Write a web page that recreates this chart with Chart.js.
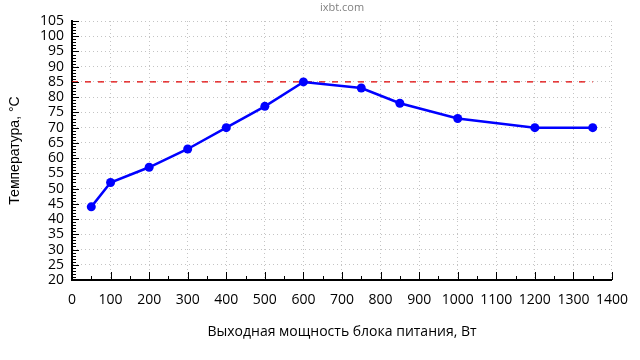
<!DOCTYPE html>
<html>
<head>
<meta charset="utf-8">
<script src="https://cdn.jsdelivr.net/npm/chart.js@4"></script>
<style>
html,body{margin:0;padding:0;background:#fff;}
#wrap{width:640px;height:360px;position:relative;}
</style>
</head>
<body>
<div id="wrap"><canvas id="c" width="640" height="360"></canvas></div>
<script>
const powerW = [50, 100, 200, 300, 400, 500, 600, 750, 850, 1000, 1200, 1350];
const tempC = [44, 52, 57, 63, 70, 77, 85, 83, 78, 73, 70, 70];
const limitX = [0, 1350];
const limitY = [85, 85];
const sourceLabel = 'ixbt.com';
const xTitle = 'Выходная мощность блока питания, Вт';
const yTitle = 'Температура, °C';

const tickFont = {family: '"Open Sans", "Noto Sans", sans-serif', size: 14};

const extras = {
  id: 'extras',
  afterDraw(chart) {
    const ctx = chart.ctx, a = chart.chartArea;
    const xs = chart.scales.x, ys = chart.scales.y;
    ctx.save();
    ctx.strokeStyle = '#000';
    ctx.lineWidth = 1;
    ctx.beginPath();
    for (let v = ys.min; v <= ys.max; v += 1) {
      const y = Math.round(ys.getPixelForValue(v)) + 0.5;
      const len = (v % 5 === 0) ? 7 : 4;
      ctx.moveTo(a.left, y); ctx.lineTo(a.left + len, y);
    }
    for (let v = xs.min; v <= xs.max; v += 50) {
      const x = Math.round(xs.getPixelForValue(v)) + 0.5;
      const len = (v % 100 === 0) ? 8 : 4;
      ctx.moveTo(x, a.bottom); ctx.lineTo(x, a.bottom - len);
    }
    ctx.stroke();
    ctx.fillStyle = '#808080';
    ctx.font = '11px "Open Sans", "Noto Sans", sans-serif';
    ctx.textAlign = 'center';
    ctx.textBaseline = 'middle';
    ctx.fillText(sourceLabel, (a.left + a.right) / 2, 8);
    ctx.restore();
  }
};

new Chart(document.getElementById('c'), {
  type: 'line',
  data: {
    datasets: [
      {
        data: powerW.map((x, i) => ({x, y: tempC[i]})),
        borderColor: '#0000ff',
        backgroundColor: '#0000ff',
        borderWidth: 2.5,
        pointRadius: 4.5,
        pointBorderWidth: 0,
        tension: 0,
        order: 1
      },
      {
        data: limitX.map((x, i) => ({x, y: limitY[i]})),
        borderColor: '#e00000',
        borderWidth: 1.3,
        borderDash: [6, 7],
        pointRadius: 0,
        order: 2
      }
    ]
  },
  options: {
    responsive: false,
    animation: false,
    devicePixelRatio: 1,
    layout: {padding: {top: 21, right: 24, left: 0, bottom: 0}},
    plugins: {legend: {display: false}, tooltip: {enabled: false}},
    scales: {
      x: {
        type: 'linear', min: 0, max: 1400,
        ticks: {stepSize: 100, autoSkip: false, color: '#000', font: tickFont, padding: 12, maxRotation: 0,
                callback: v => String(v)},
        grid: {color: '#c4c4c4', lineWidth: 1, drawTicks: false},
        border: {display: true, color: '#000', width: 2, dash: [1, 3]},
        title: {display: true, text: xTitle, color: '#000', font: {family: '"Open Sans", "Noto Sans", sans-serif', size: 14}, padding: {top: 12, bottom: 20}},
        afterFit(s) { s.width = s.width; s.height = 80; }
      },
      y: {
        min: 20, max: 105,
        ticks: {stepSize: 5, autoSkip: false, color: '#000', font: tickFont, padding: 8, callback: v => String(v)},
        grid: {color: '#c4c4c4', lineWidth: 1, drawTicks: false},
        border: {display: true, color: '#000', width: 2, dash: [1, 3]},
        title: {display: true, text: yTitle, color: '#000', font: {family: '"Liberation Sans", Arial, sans-serif', size: 14}, padding: {top: 7, bottom: 4}},
        afterFit(s) { s.width = 72; }
      }
    }
  },
  plugins: [extras]
});
</script>
</body>
</html>
